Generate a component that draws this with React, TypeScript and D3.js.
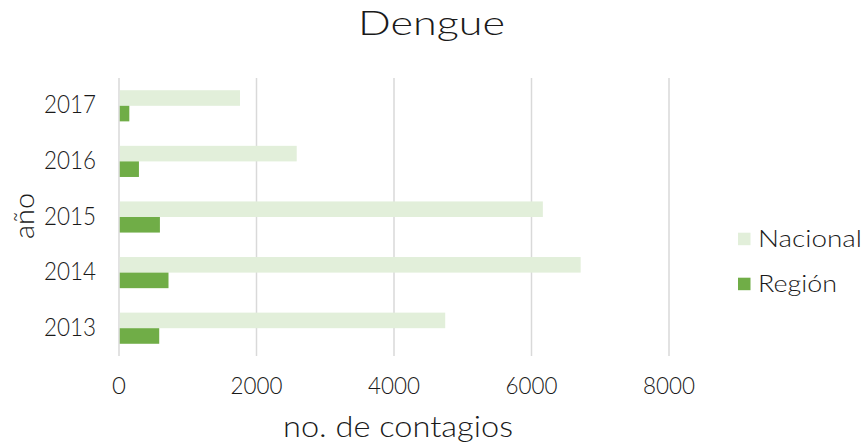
import React from "react";
import * as d3 from "d3";

const years = ["2017", "2016", "2015", "2014", "2013"];
const series = ["Nacional", "Región"];
const nacional = [1760, 2585, 6165, 6715, 4745];
const region = [150, 290, 595, 720, 585];
const xTicks = [0, 2000, 4000, 6000, 8000];
const colors = ["#e2efda", "#70ad47"];
const legendWidths = [104, 79];

const W = 866;
const H = 443;
const FONT = "Lato, 'Noto Sans', sans-serif";
const INK = "#1a1a1a";

export default function App() {
  const x = d3.scaleLinear().domain([0, 8000]).range([119, 669]);
  const y = d3.scaleBand<string>().domain(years).range([78, 356]).paddingInner(0.44).paddingOuter(0.22);
  const inner = d3.scaleBand<string>().domain(series).range([0, y.bandwidth()]);
  const values = [nacional, region];

  return (
    <svg width={W} height={H} style={{ position: "absolute", left: 0, top: 0, background: "#fff" }} fontFamily={FONT} fontWeight={300}>
      <text x={358} y={35} fontSize={34} fill={INK} textLength={147} lengthAdjust="spacingAndGlyphs">Dengue</text>
      {xTicks.map((t) => (
        <line key={t} x1={x(t)} x2={x(t)} y1={78} y2={356} stroke="#d9d9d9" strokeWidth={1.5} />
      ))}
      {series.map((s, si) =>
        years.map((yr, i) => (
          <rect
            key={s + yr}
            x={x(0) + 0.75}
            y={(y(yr) as number) + (inner(s) as number)}
            width={x(values[si][i]) - x(0) - 0.75}
            height={inner.bandwidth()}
            fill={colors[si]}
          />
        ))
      )}
      {years.map((yr) => (
        <text key={yr} x={96} y={(y(yr) as number) + y.bandwidth() / 2 + 7.5} textAnchor="end" fontSize={24.5} fill={INK} textLength={52} lengthAdjust="spacingAndGlyphs">{yr}</text>
      ))}
      {xTicks.map((t) =>
        t === 0 ? (
          <text key={t} x={x(t)} y={394} textAnchor="middle" fontSize={24} fill={INK}>{t}</text>
        ) : (
          <text key={t} x={x(t) - 26} y={394} fontSize={24} fill={INK} textLength={52} lengthAdjust="spacingAndGlyphs">{t}</text>
        )
      )}
      <text x={283} y={436.5} fontSize={30} fill={INK} textLength={230} lengthAdjust="spacingAndGlyphs">no. de contagios</text>
      <text transform={`translate(34,239) rotate(-90)`} fontSize={28} fill={INK} textLength={46} lengthAdjust="spacingAndGlyphs">año</text>
      {series.map((s, si) => (
        <g key={s} transform={`translate(738,${232.7 + si * 45})`}>
          <rect x={0} y={0} width={12.5} height={12.5} fill={colors[si]} />
          <text x={20} y={14} fontSize={24} fill={INK} textLength={legendWidths[si]} lengthAdjust="spacingAndGlyphs">{s}</text>
        </g>
      ))}
    </svg>
  );
}
